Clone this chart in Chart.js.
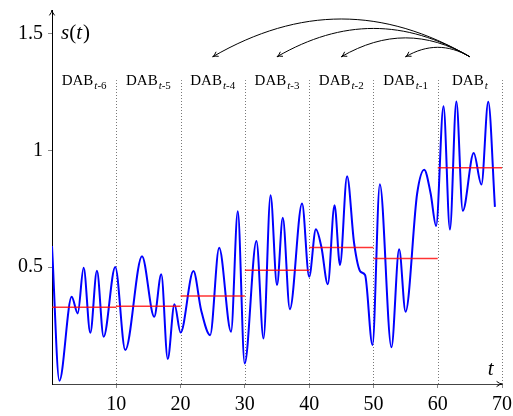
<!DOCTYPE html>
<html>
<head>
<meta charset="utf-8">
<script src="https://cdn.jsdelivr.net/npm/chart.js@4/dist/chart.umd.min.js"></script>
<style>
  html, body { margin: 0; padding: 0; background: #fff; }
  #wrap { width: 513px; height: 416px; }
</style>
</head>
<body>
<div id="wrap"><canvas id="chart"></canvas></div>
<script>
// Signal s(t) (extrema and knees)
const tValues = [0, 1.15, 3.06, 4.0, 4.92, 5.96, 6.99, 8.03, 9.84, 11.4, 14.0, 15.9, 17.0, 18.0, 19.05,
  20.0, 22.0, 23.2, 24.6, 26.0, 27.85, 28.9, 29.97, 31.8, 32.9, 34.0, 35.0, 35.9, 37.0, 38.9,
  40.0, 41.05, 41.9, 42.9, 43.95, 44.8, 45.9, 47.0, 48.0, 48.7, 49.85, 51.0, 52.8, 54.0, 55.0,
  56.8, 57.9, 58.9, 59.75, 60.9, 61.9, 62.9, 63.9, 65.6, 66.8, 67.86, 68.9];
const sValues = [0.59, 0.014, 0.373, 0.302, 0.497, 0.219, 0.484, 0.202, 0.501, 0.145, 0.547, 0.288, 0.469, 0.107, 0.341,
  0.22, 0.483, 0.316, 0.209, 0.583, 0.224, 0.739, 0.088, 0.612, 0.195, 0.808, 0.423, 0.711, 0.32, 0.772,
  0.459, 0.662, 0.587, 0.427, 0.765, 0.509, 0.889, 0.601, 0.48, 0.466, 0.167, 0.855, 0.157, 0.576, 0.309,
  0.815, 0.917, 0.815, 0.676, 1.188, 0.661, 1.209, 0.741, 0.988, 0.853, 1.207, 0.758];

// Window boundaries and mean value of each window
const windowStarts = [0, 10, 20, 30, 40, 50, 60];
const windowMeans = [0.328, 0.333, 0.376, 0.487, 0.584, 0.537, 0.925];
const windowSubs = ['-6', '-5', '-4', '-3', '-2', '-1', ''];
const windowWidth = 10;

const xTicks = [10, 20, 30, 40, 50, 60, 70];
const yTicks = [0.5, 1, 1.5];

// Arrows from DAB_t back to older windows
const arrowFrom = 65;
const arrowTargets = [25, 35, 45, 55];
const arrowLevel = 1.4;
const labelLevel = 1.278;
const gridTop = 1.3;

const SERIF = '"Liberation Serif", "DejaVu Serif", serif';

function meanSegments() {
  const pts = [];
  windowStarts.forEach((start, i) => {
    pts.push({ x: start, y: windowMeans[i] });
    pts.push({ x: start + windowWidth, y: windowMeans[i] });
    pts.push({ x: start + windowWidth, y: null });
  });
  return pts;
}

function drawArrowHead(ctx, x, y, angle) {
  const len = 6;
  ctx.beginPath();
  ctx.moveTo(x - len * Math.cos(angle - 0.45), y - len * Math.sin(angle - 0.45));
  ctx.quadraticCurveTo(x - 2 * Math.cos(angle), y - 2 * Math.sin(angle), x, y);
  ctx.quadraticCurveTo(x - 2 * Math.cos(angle), y - 2 * Math.sin(angle),
    x - len * Math.cos(angle + 0.45), y - len * Math.sin(angle + 0.45));
  ctx.stroke();
}

const decorations = {
  id: 'decorations',
  beforeDatasetsDraw(chart) {
    const { ctx, scales: { x, y } } = chart;
    ctx.save();
    ctx.strokeStyle = '#555';
    ctx.lineWidth = 0.8;
    ctx.setLineDash([1, 2]);
    xTicks.forEach(v => {
      const px = Math.round(x.getPixelForValue(v)) + 0.5;
      ctx.beginPath();
      ctx.moveTo(px, y.getPixelForValue(0));
      ctx.lineTo(px, y.getPixelForValue(gridTop));
      ctx.stroke();
    });
    ctx.restore();
  },
  afterDraw(chart) {
    const { ctx, scales: { x, y } } = chart;
    ctx.save();
    ctx.fillStyle = '#000';
    ctx.strokeStyle = '#000';
    ctx.lineWidth = 1;

    // axis arrow heads
    const x0 = x.getPixelForValue(0), y0 = y.getPixelForValue(0);
    drawArrowHead(ctx, x0, y.getPixelForValue(1.6), -Math.PI / 2);
    drawArrowHead(ctx, x.getPixelForValue(70), y0, 0);

    // window labels
    ctx.textBaseline = 'alphabetic';
    windowStarts.forEach((start, i) => {
      const cx = x.getPixelForValue(start + windowWidth / 2);
      const base = y.getPixelForValue(labelLevel);
      ctx.font = '15px ' + SERIF;
      const w1 = ctx.measureText('DAB').width;
      ctx.font = 'italic 11px ' + SERIF;
      const wt = ctx.measureText('t').width;
      ctx.font = '11px ' + SERIF;
      const w2 = ctx.measureText(windowSubs[i]).width;
      let left = cx - (w1 + wt + w2 + 1) / 2;
      ctx.font = '15px ' + SERIF;
      ctx.fillText('DAB', left, base);
      left += w1 + 1;
      ctx.font = 'italic 11px ' + SERIF;
      ctx.fillText('t', left, base + 4);
      ctx.font = '11px ' + SERIF;
      ctx.fillText(windowSubs[i], left + wt, base + 4);
    });

    // axis titles
    const ax = x0 + 9, ay = y.getPixelForValue(1.5) + 6;
    ctx.font = 'italic 21px ' + SERIF;
    ctx.fillText('s', ax, ay);
    let off = ctx.measureText('s').width;
    ctx.font = '21px ' + SERIF;
    ctx.fillText('(', ax + off, ay);
    off += ctx.measureText('(').width;
    ctx.font = 'italic 21px ' + SERIF;
    ctx.fillText('t', ax + off, ay);
    off += ctx.measureText('t').width + 1;
    ctx.font = '21px ' + SERIF;
    ctx.fillText(')', ax + off, ay);
    ctx.font = 'italic 21px ' + SERIF;
    ctx.fillText('t', x.getPixelForValue(67.8), y0 - 9);

    // bent arrows (tikz bend right, 30 deg)
    const sx = x.getPixelForValue(arrowFrom), sy = y.getPixelForValue(arrowLevel);
    const a = Math.PI / 6;
    arrowTargets.forEach(t => {
      const ex = x.getPixelForValue(t), ey = y.getPixelForValue(arrowLevel);
      const d = 0.3915 * Math.hypot(sx - ex, sy - ey);
      ctx.beginPath();
      ctx.moveTo(sx, sy);
      ctx.bezierCurveTo(sx - d * Math.cos(a), sy - d * Math.sin(a),
        ex + d * Math.cos(a), ey - d * Math.sin(a), ex, ey);
      ctx.stroke();
      drawArrowHead(ctx, ex, ey, Math.PI - a);
    });
    ctx.restore();
  }
};

function renderChart() {
  const ctx = document.getElementById('chart').getContext('2d');
  new Chart(ctx, {
    type: 'line',
    data: {
      datasets: [{
        label: 'window mean',
        data: meanSegments(),
        borderColor: 'rgba(255, 0, 0, 0.8)',
        borderWidth: 1.5,
        pointRadius: 0,
        spanGaps: false,
        tension: 0
      }, {
        label: 's(t)',
        data: tValues.map((t, i) => ({ x: t, y: sValues[i] })),
        borderColor: '#0000ff',
        borderWidth: 2,
        pointRadius: 0,
        cubicInterpolationMode: 'monotone'
      }]
    },
    options: {
      responsive: true,
      maintainAspectRatio: false,
      animation: false,
      layout: { padding: { top: 10, right: 11, left: 0, bottom: 0 } },
      plugins: {
        legend: { display: false },
        tooltip: { enabled: false }
      },
      scales: {
        x: {
          type: 'linear',
          min: 0,
          max: 70,
          afterBuildTicks: scale => { scale.ticks = xTicks.map(v => ({ value: v })); },
          afterFit: scale => {
            scale.height = 32;
            scale.paddingLeft = 0;
            scale.paddingRight = 0;
          },
          grid: { drawOnChartArea: false, tickLength: 4, color: '#888' },
          border: { color: '#444', width: 1 },
          ticks: { color: '#000', padding: 5, maxRotation: 0, font: { family: SERIF, size: 20 } }
        },
        y: {
          min: 0,
          max: 1.6,
          afterBuildTicks: scale => { scale.ticks = yTicks.map(v => ({ value: v })); },
          afterFit: scale => {
            scale.width = 52;
            scale.paddingTop = 0;
            scale.paddingBottom = 0;
          },
          grid: { drawOnChartArea: false, tickLength: 4, color: '#888' },
          border: { color: '#000', width: 1 },
          ticks: { color: '#000', padding: 5, font: { family: SERIF, size: 20 }, callback: v => String(v) }
        }
      }
    },
    plugins: [decorations]
  });
}

document.addEventListener('DOMContentLoaded', renderChart);
</script>
</body>
</html>
